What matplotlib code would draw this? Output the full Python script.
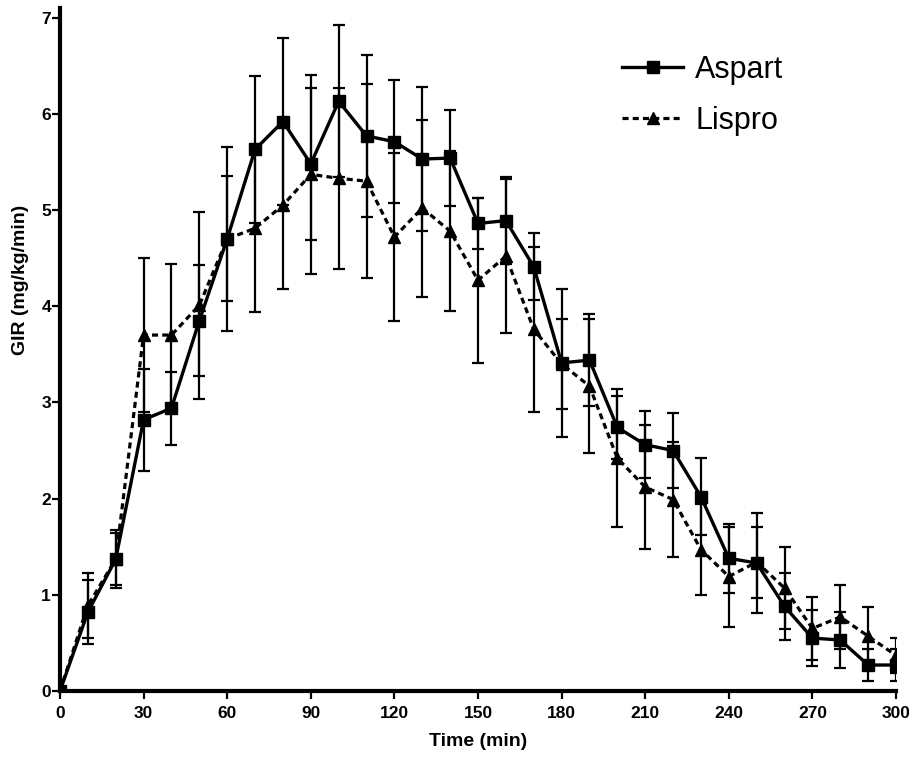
import numpy as np
import matplotlib
matplotlib.use("Agg")
import matplotlib.pyplot as plt

plt.rcParams['font.family'] = ['Liberation Sans', 'DejaVu Sans']

time_min = [0, 10, 20, 30, 40, 50, 60, 70, 80, 90, 100, 110, 120, 130, 140, 150,
            160, 170, 180, 190, 200, 210, 220, 230, 240, 250, 260, 270, 280, 290, 300]

aspart = [0, 0.82, 1.37, 2.82, 2.94, 3.85, 4.70, 5.63, 5.92, 5.48, 6.13, 5.77, 5.71, 5.53, 5.54, 4.86,
          4.89, 4.41, 3.41, 3.44, 2.74, 2.56, 2.50, 2.02, 1.38, 1.33, 0.88, 0.55, 0.53, 0.27, 0.27]
aspart_err = [0, 0.33, 0.30, 0.53, 0.38, 0.58, 0.96, 0.76, 0.87, 0.79, 0.79, 0.84, 0.64, 0.75, 0.50, 0.27,
              0.45, 0.35, 0.77, 0.48, 0.33, 0.35, 0.39, 0.40, 0.36, 0.52, 0.35, 0.29, 0.29, 0.17, 0.17]

lispro = [0, 0.89, 1.37, 3.70, 3.70, 4.01, 4.70, 4.81, 5.05, 5.37, 5.33, 5.30, 4.72, 5.02, 4.78, 4.27,
          4.52, 3.76, 3.40, 3.17, 2.42, 2.12, 1.99, 1.47, 1.19, 1.34, 1.07, 0.65, 0.77, 0.57, 0.37]
lispro_err = [0, 0.34, 0.27, 0.80, 0.74, 0.97, 0.65, 0.87, 0.87, 1.03, 0.94, 1.01, 0.87, 0.92, 0.83, 0.86,
              0.80, 0.86, 0.47, 0.70, 0.72, 0.64, 0.60, 0.47, 0.52, 0.37, 0.43, 0.33, 0.33, 0.30, 0.18]

fig = plt.figure(figsize=(9.14, 7.58), dpi=100)
# axes: x 60..896 px, y 8..691 px
ax = fig.add_axes([60 / 914, 67 / 758, 836 / 914, 683 / 758])

ax.errorbar(time_min, lispro, yerr=lispro_err, color='black', lw=2.3, ls=(0, (1.9, 1.3)),
            marker='^', ms=8, elinewidth=1.6, capsize=4.5, capthick=1.6, label='Lispro', zorder=2)
ax.errorbar(time_min, aspart, yerr=aspart_err, color='black', lw=2.4, ls='-',
            marker='s', ms=8, elinewidth=1.6, capsize=4.5, capthick=1.6, label='Aspart', zorder=3)

ax.set_xlim(0, 300)
ax.set_ylim(0, 7.1)
ax.set_xticks(range(0, 301, 30))
ax.set_yticks(range(0, 8))
ax.spines['top'].set_visible(False)
ax.spines['right'].set_visible(False)
ax.spines['left'].set_linewidth(3)
ax.spines['bottom'].set_linewidth(3)
ax.tick_params(axis='both', width=1.6, length=5.5, labelsize=12.5)
ax.tick_params(axis='x', pad=5)
ax.tick_params(axis='y', pad=1)
for lab in ax.get_xticklabels() + ax.get_yticklabels():
    lab.set_fontweight('bold')

ax.set_xlabel('Time (min)', fontsize=14, fontweight='bold')
ax.set_ylabel('GIR (mg/kg/min)', fontsize=14, fontweight='bold')
ax.xaxis.set_label_coords(0.5, -0.062)
ax.yaxis.label.set_va('center')
ax.yaxis.set_label_coords(-0.047, 0.602)

handles, labels = ax.get_legend_handles_labels()
leg = fig.legend([h[0] for h in handles[::-1]], labels[::-1], loc='upper left',
                 bbox_to_anchor=(622 / 914, 1 - 55 / 758), frameon=False, fontsize=22,
                 handlelength=2.0, handletextpad=0.4, labelspacing=0.69,
                 borderpad=0, borderaxespad=0)

fig.savefig('out.png', dpi=100)
